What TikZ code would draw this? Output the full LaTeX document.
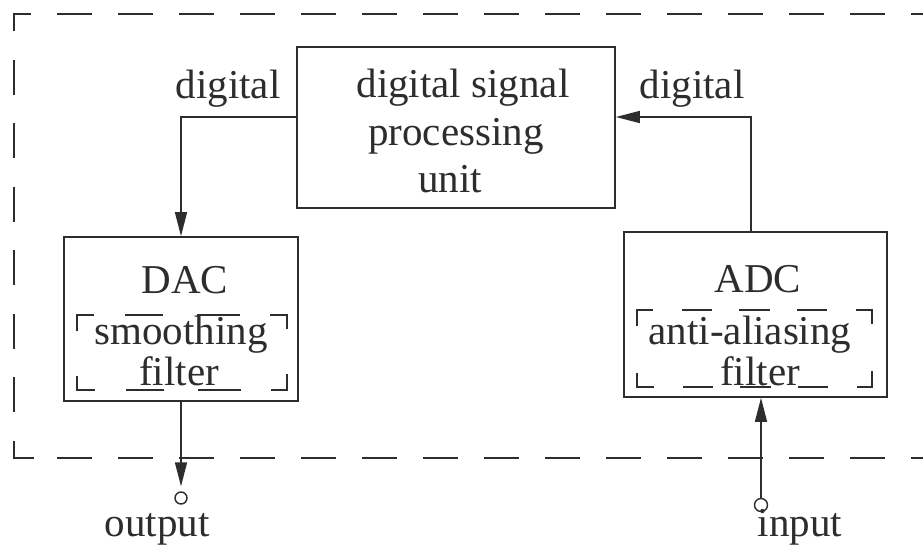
\documentclass[tikz,border=0pt]{standalone}
\usepackage{fontspec}
\setmainfont{Liberation Serif}
\usetikzlibrary{arrows.meta}
\definecolor{ink}{RGB}{45,45,45}
\begin{document}
\begin{tikzpicture}[x=1pt,y=-1pt,
  box/.style={draw=ink, line width=1.7pt, rectangle, inner sep=0pt},
  lbl/.style={text=ink, font=\fontsize{41}{48}\selectfont, inner sep=0pt, anchor=base},
  flow/.style={draw=ink, line width=1.5pt, -{Triangle[length=24pt,width=12pt]}},
  frame/.style={draw=ink, line width=2.3pt},
  bracket/.style={draw=ink, line width=1.8pt, line join=miter},
  port/.style={circle, draw=ink, line width=1.4pt, inner sep=0pt, fill=white},
]
\clip (0,0) rectangle (923,546);
\fill[white] (0,0) rectangle (923,546);

% outer dashed enclosure, open to the right
\coordinate (ftl) at (14,14);
\coordinate (fbl) at (14,458);
\draw[frame] (14,31) -- (ftl) -- (31,14);
\draw[frame] (14,441) -- (fbl) -- (34,458);
\draw[frame, dash pattern=on 35pt off 28.57pt] (14,59.57) -- (14,412.43);
\draw[frame, dash pattern=on 35pt off 26pt] (57,14) -- (935,14);
\draw[frame, dash pattern=on 35pt off 26pt] (57,458) -- (935,458);

% blocks
\node[box, minimum width=318pt, minimum height=161pt] (dsp) at (456,127.5) {};
\node[box, minimum width=234pt, minimum height=164pt] (dac) at (181,319) {};
\node[box, minimum width=263pt, minimum height=165pt] (adc) at (755.5,314.5) {};

% filter brackets inside the converters
\node[inner sep=0pt, minimum width=210pt, minimum height=75pt] (dacbr) at (182,352.5) {};
\node[inner sep=0pt, minimum width=235pt, minimum height=77pt] (adcbr) at (754.5,348.5) {};
\draw[bracket, dash pattern=on 32pt off 31pt on 38pt off 34pt on 43pt off 30pt on 32pt off 45pt
      on 32pt off 30pt on 43pt off 34pt on 38pt off 31pt on 32pt off 45pt]
  ([yshift=-15pt]dacbr.north west) -- (dacbr.north west) -- (dacbr.north east)
  -- (dacbr.south east) -- (dacbr.south west) -- cycle;
\draw[bracket, dash pattern=on 31pt off 29pt on 30pt off 27pt on 31pt off 27pt on 30pt off 29pt on 31pt off 47pt
      on 31pt off 29pt on 30pt off 27pt on 31pt off 27pt on 30pt off 29pt on 31pt off 47pt]
  ([yshift=-15pt]adcbr.north west) -- (adcbr.north west) -- (adcbr.north east)
  -- (adcbr.south east) -- (adcbr.south west) -- cycle;

% texts
\node[lbl] (dsp1) at (463,97) {digital signal};
\node[lbl] (dsp2) at (456,145) {processing};
\node[lbl] (dsp3) at (450,192) {unit};
\node[lbl] (dact) at (185,293) {DAC};
\node[lbl] (dacs) at (181,344) {smoothing};
\node[lbl] (dacf) at (179,385) {filter};
\node[lbl] (adct) at (758,292) {ADC};
\node[lbl] (adcs) at (750,344) {anti-aliasing};
\node[lbl] (adcf) at (760,385) {filter};
\node[lbl] (digl) at (228,98) {digital};
\node[lbl] (digr) at (692,98) {digital};

% terminals
\node[port, minimum size=12pt] (outp) at (181,498) {};
\node[port, minimum size=13pt] (inp) at (761,505) {};
\node[lbl] (outl) at (157,536) {output};
\node[lbl] (inl) at (800,536) {input};

% signal flow
\draw[flow] ([yshift=10.5pt]dsp.west) -| (dac.north);
\draw[flow] ([xshift=-4.5pt]adc.north) |- ([yshift=10.5pt]dsp.east);
\draw[flow, shorten >=5pt] (dac.south) -- (dac.south |- outp.north);
\draw[flow] (inp.north) -- (inp |- adc.south);
\end{tikzpicture}
\end{document}
